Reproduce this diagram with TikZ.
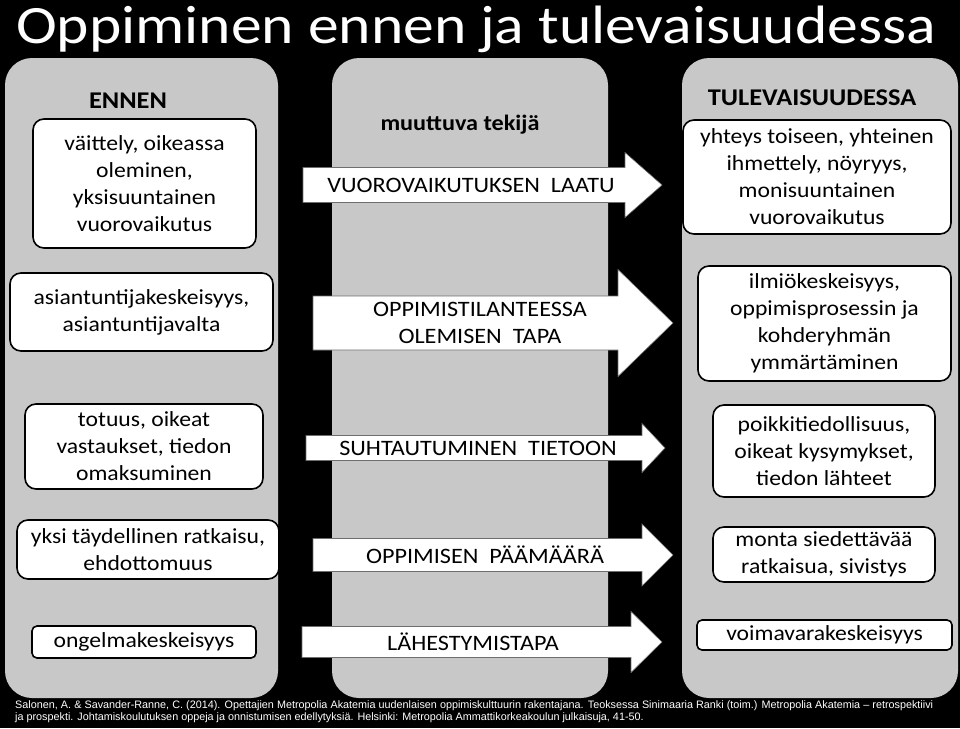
\documentclass[tikz,border=0pt]{standalone}
\usepackage{fontspec}
\setmainfont[FakeStretch=1.1]{Carlito}
\newfontfamily\titlefont[FakeStretch=1.14]{Carlito}
\newfontfamily\reffont{Liberation Sans}
\usepackage{xcolor}
\usepackage{tikz}
\definecolor{panelgray}{RGB}{200,200,200}
\definecolor{arrowedge}{RGB}{110,110,110}

% left, head base, tip, centre y, half shaft, half head
\newcommand{\flowarrow}[6]{%
  \filldraw[fill=white,draw=arrowedge,line width=0.6pt]
    (#1,#4-#5) -- (#2,#4-#5) -- (#2,#4-#6) -- (#3,#4)
    -- (#2,#4+#6) -- (#2,#4+#5) -- (#1,#4+#5) -- cycle;}

\begin{document}
\begin{tikzpicture}[x=1pt,y=-1pt,
    panel/.style={fill=panelgray,rounded corners=27pt,minimum width=#1,
      minimum height=640pt,inner sep=0pt},
    textbox/.style={draw=black,line width=1.6pt,fill=white,rounded corners=11pt,
      align=center,inner sep=0pt,font=\fontsize{21.5}{27}\selectfont},
    heading/.style={font=\bfseries\fontsize{24}{28}\selectfont},
    arrowtext/.style={align=center,inner sep=0pt,font=\fontsize{22}{27}\selectfont}]
    \fill[black] (0,0) rectangle (960,728);
    \useasboundingbox (0,0) rectangle (960,728);
    \node[anchor=base,text=white,font=\titlefont\fontsize{54}{60}\selectfont] (title)
      at (476,43) {Oppiminen ennen ja tulevaisuudessa};
    \node[panel=273pt] (before) at (141.5,378) {};
    \node[panel=276pt] (factor) at (470,378) {};
    \node[panel=276pt] (future) at (820,378) {};
    \node[heading] (ennen) at (128,101) {ENNEN};
    \node[heading,font=\bfseries\fontsize{22}{26}\selectfont] (tekija) at (460,125) {muuttuva tekijä};
    \node[heading] (tulev) at (812,98) {TULEVAISUUDESSA};
    \flowarrow{303}{625}{662}{185}{17.5}{32.5}
    \flowarrow{313}{618}{673}{323}{27}{53.5}
    \flowarrow{306}{642}{665}{448}{12.5}{24.5}
    \flowarrow{313}{642}{673}{555}{16.5}{31}
    \flowarrow{302}{631}{662}{642}{15.5}{30.5}
    \node[arrowtext] (laatu) at (471,185) {VUOROVAIKUTUKSEN\ \ LAATU};
    \node[arrowtext] (tapa) at (480,323) {OPPIMISTILANTEESSA\\OLEMISEN\ \ TAPA};
    \node[arrowtext] (tieto) at (478,448) {SUHTAUTUMINEN\ \ TIETOON};
    \node[arrowtext] (paamaara) at (485,555) {OPPIMISEN\ \ PÄÄMÄÄRÄ};
    \node[arrowtext] (lahesty) at (473,642) {LÄHESTYMISTAPA};
    \node[textbox,minimum width=223pt,minimum height=129pt] (e1) at (144.5,183.5)
      {väittely, oikeassa\\oleminen,\\yksisuuntainen\\vuorovaikutus};
    \node[textbox,minimum width=263pt,minimum height=78pt] (e2) at (141.5,312)
      {asiantuntijakeskeisyys,\\asiantuntijavalta};
    \node[textbox,minimum width=238pt,minimum height=85pt] (e3) at (144,446.5)
      {totuus, oikeat\\vastaukset, tiedon\\omaksuminen};
    \node[textbox,minimum width=262pt,minimum height=59pt] (e4) at (148,549.5)
      {yksi täydellinen ratkaisu,\\ehdottomuus};
    \node[textbox,rounded corners=5pt,minimum width=224pt,minimum height=32pt] (e5) at (144,642)
      {ongelmakeskeisyys};
    \node[textbox,minimum width=268pt,minimum height=114pt] (t1) at (817,177)
      {yhteys toiseen, yhteinen\\ihmettely, nöyryys,\\monisuuntainen\\vuorovaikutus};
    \node[textbox,minimum width=253pt,minimum height=115pt] (t2) at (824.5,323.5)
      {ilmiökeskeisyys,\\oppimisprosessin ja\\kohderyhmän\\ymmärtäminen};
    \node[textbox,minimum width=222pt,minimum height=92pt] (t3) at (824,451)
      {poikkitiedollisuus,\\oikeat kysymykset,\\tiedon lähteet};
    \node[textbox,minimum width=222pt,minimum height=55pt] (t4) at (824,554.5)
      {monta siedettävää\\ratkaisua, sivistys};
    \node[textbox,rounded corners=5pt,minimum width=255pt,minimum height=30pt] (t5) at (824.5,635)
      {voimavarakeskeisyys};
    \node[anchor=north west,text width=918pt,align=justify,inner sep=0pt,text=white,
      font=\reffont\fontsize{10.8}{12}\selectfont] (lahde) at (15,700)
      {Salonen, A. \& Savander-Ranne, C. (2014). Opettajien Metropolia Akatemia uudenlaisen oppimiskulttuurin rakentajana. Teoksessa Sinimaaria Ranki (toim.) Metropolia Akatemia – retrospektiivi\linebreak ja prospekti. Johtamiskoulutuksen oppeja ja onnistumisen edellytyksiä. Helsinki: Metropolia Ammattikorkeakoulun julkaisuja, 41-50.};
\end{tikzpicture}
\end{document}
